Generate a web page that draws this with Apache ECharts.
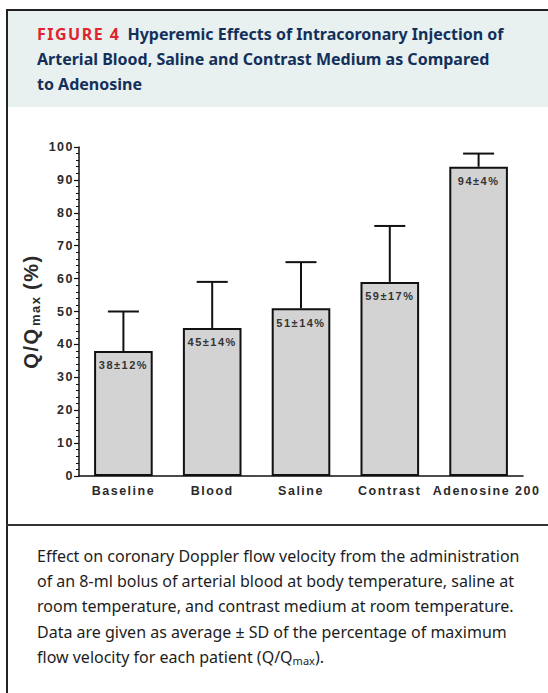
<!DOCTYPE html>
<html>
<head>
<meta charset="utf-8">
<script src="https://cdn.jsdelivr.net/npm/echarts@6/dist/echarts.min.js"></script>
<style>
    body { margin: 0; width: 548px; height: 693px; background: #fff; position: relative; overflow: hidden; }
    .frame-top { position: absolute; left: 6px; top: 9px; width: 542px; height: 2px; background: #222; }
    .frame-left { position: absolute; left: 6px; top: 9px; width: 2px; height: 684px; background: #222; }
    .divider { position: absolute; left: 6px; top: 524px; width: 542px; height: 2px; background: #333; }
    .header { position: absolute; left: 8px; top: 11px; width: 540px; height: 96px; background: #e8f1f0; }
    .title { position: absolute; left: 37px; top: 22px; width: 510px; font-family: "Noto Sans", sans-serif; font-weight: bold; font-size: 16px; line-height: 25px; color: #14305a; }
    .title .fig { color: #e0242f; letter-spacing: 1.5px; margin-right: 7px; }
    .caption { position: absolute; left: 37px; top: 544px; width: 510px; font-family: "Noto Sans", sans-serif; font-size: 16px; line-height: 25.2px; color: #1d1d1d; }
    .caption sub { font-size: 11px; vertical-align: -2px; line-height: 0; }
    #chart { position: absolute; left: 0; top: 0; width: 548px; height: 693px; }
    #chart text { letter-spacing: 1.5px; }
</style>
</head>
<body>
<div class="header"></div>
<div class="frame-top"></div>
<div class="frame-left"></div>
<div class="divider"></div>
<div class="title"><span class="fig">FIGURE 4</span>Hyperemic Effects of Intracoronary Injection of<br>Arterial Blood, Saline and Contrast Medium as Compared<br>to Adenosine</div>
<div class="caption">Effect on coronary Doppler flow velocity from the administration<br>of an 8-ml bolus of arterial blood at body temperature, saline at<br>room temperature, and contrast medium at room temperature.<br>Data are given as average &plusmn; SD of the percentage of maximum<br>flow velocity for each patient (Q/Q<sub>max</sub>).</div>
<div id="chart"></div>
<script>
// 数据
const categories = ['Baseline', 'Blood', 'Saline', 'Contrast', 'Adenosine 200'];
const means = [38, 45, 51, 59, 94];
const sds = [12, 14, 14, 17, 4];
const yTicks = [0, 10, 20, 30, 40, 50, 60, 70, 80, 90, 100];

document.addEventListener('DOMContentLoaded', function() {
    const chart = echarts.init(document.getElementById('chart'), null, { renderer: 'svg' });
    const font = 'Arial';

    // 误差线
    const errorData = means.map((m, i) => [i, m, sds[i]]);

    const option = {
        animation: false,
        grid: { left: 79, top: 147, width: 444, height: 329 },
        xAxis: {
            type: 'category',
            data: categories,
            axisLine: { lineStyle: { color: '#111', width: 1.5 } },
            axisTick: { alignWithLabel: true, length: 4, lineStyle: { color: '#111', width: 1.5 } },
            axisLabel: {
                interval: 0, hideOverlap: false, margin: 8, fontSize: 12.5, fontFamily: font, fontWeight: 'bold', color: '#2a2a2a',
                // 最后一个标签在原图中略偏右
                formatter: (v, i) => i === categories.length - 1 ? '{r|' + v + '}' : v,
                rich: { r: { fontSize: 12.5, fontFamily: font, fontWeight: 'bold', color: '#2a2a2a', padding: [0, 0, 0, 16] } }
            }
        },
        yAxis: {
            type: 'value',
            min: yTicks[0],
            max: yTicks[yTicks.length - 1],
            interval: 10,
            name: '{q|Q/Q}{s|max}{p|(%)}',
            nameLocation: 'middle',
            nameRotate: 90,
            nameGap: 36,
            nameTextStyle: {
                rich: {
                    q: { fontSize: 20, fontWeight: 'bold', fontFamily: font, color: '#2a2a2a', lineHeight: 22, verticalAlign: 'middle', padding: [0, 6, 0, 0] },
                    s: { fontSize: 13, fontWeight: 'bold', fontFamily: font, color: '#2a2a2a', lineHeight: 9, verticalAlign: 'bottom', padding: [0, 10, 0, 0] },
                    p: { fontSize: 20, fontWeight: 'bold', fontFamily: font, color: '#2a2a2a', lineHeight: 22, verticalAlign: 'middle' }
                }
            },
            axisLine: { show: true, lineStyle: { color: '#111', width: 1.5 } },
            axisTick: { show: true, length: 5, lineStyle: { color: '#111', width: 1.2 } },
            minorTick: { show: true, splitNumber: 5, length: 3, lineStyle: { color: '#111', width: 1 } },
            splitLine: { show: false },
            axisLabel: { margin: 5, fontSize: 12.5, fontFamily: font, fontWeight: 'bold', color: '#2a2a2a' }
        },
        series: [
            {
                type: 'bar',
                data: means,
                barWidth: '66%',
                itemStyle: { color: '#d3d3d3', borderColor: '#111', borderWidth: 2 },
                label: {
                    show: true,
                    position: 'insideTop',
                    distance: 9,
                    fontSize: 11,
                    fontFamily: font,
                    fontWeight: 'bold',
                    color: '#333',
                    formatter: p => p.value + '±' + sds[p.dataIndex] + '%'
                }
            },
            {
                type: 'custom',
                data: errorData,
                z: 1,
                renderItem: function(params, api) {
                    const base = api.coord([api.value(0), api.value(1)]);
                    const top = api.coord([api.value(0), api.value(1) + api.value(2)]);
                    const half = 15.5;
                    const style = { stroke: '#111', lineWidth: 2 };
                    return {
                        type: 'group',
                        children: [
                            { type: 'line', shape: { x1: base[0], y1: base[1], x2: top[0], y2: top[1] }, style: style },
                            { type: 'line', shape: { x1: top[0] - half, y1: top[1], x2: top[0] + half, y2: top[1] }, style: style }
                        ]
                    };
                }
            }
        ]
    };

    chart.setOption(option);
});
</script>
</body>
</html>
